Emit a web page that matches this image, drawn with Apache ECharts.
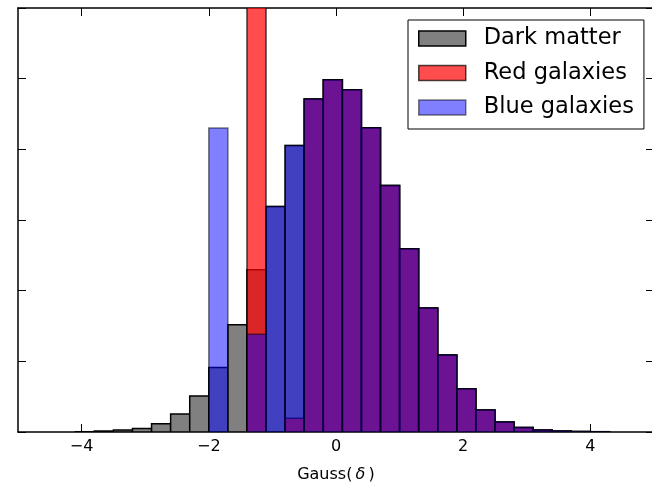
<!DOCTYPE html>
<html>
<head>
<meta charset="utf-8">
<script src="https://cdn.jsdelivr.net/npm/echarts@6/dist/echarts.min.js"></script>
<style>
  html, body { margin: 0; padding: 0; background: #fff; }
  #chart { width: 652px; height: 487px; }
</style>
</head>
<body>
<div id="chart"></div>
<script>
// histogram bins: left edges, width 0.3
var binWidth = 0.3;
var binEdges = [-4.1, -3.8, -3.5, -3.2, -2.9, -2.6, -2.3, -2.0, -1.7, -1.4,
    -1.1, -0.8, -0.5, -0.2, 0.1, 0.4, 0.7, 1.0, 1.3, 1.6,
    1.9, 2.2, 2.5, 2.8, 3.1, 3.4, 3.7, 4.0];
var darkMatter = [0.0004, 0.0014, 0.0028, 0.0051, 0.0118, 0.0255, 0.0510, 0.0911, 0.1516, 0.2295,
    0.3191, 0.4055, 0.4712, 0.4986, 0.4844, 0.4306, 0.3489, 0.2592, 0.1756, 0.1091,
    0.0613, 0.0312, 0.0142, 0.0065, 0.0028, 0.0014, 0.0007, 0.0004];
var redGalaxies = [0, 0, 0, 0, 0, 0, 0, 0, 0, 0.80,
    0, 0.0194, 0.4712, 0.4986, 0.4844, 0.4306, 0.3489, 0.2592, 0.1756, 0.1091,
    0.0613, 0.0312, 0.0142, 0.0065, 0.0028, 0.0014, 0.0007, 0.0004];
var blueGalaxies = [0, 0, 0, 0, 0, 0, 0, 0.4302, 0, 0.1384,
    0.3191, 0.4055, 0.4712, 0.4986, 0.4844, 0.4306, 0.3489, 0.2592, 0.1756, 0.1091,
    0.0613, 0.0312, 0.0142, 0.0065, 0.0028, 0.0014, 0.0007, 0.0004];
var xTicks = [-4, -2, 0, 2, 4];

function pairs(heights) {
    var out = [];
    for (var i = 0; i < binEdges.length; i++) {
        out.push([binEdges[i], heights[i]]);
    }
    return out;
}

function histSeries(name, heights, fill, stroke) {
    return {
        name: name,
        type: 'custom',
        clip: true,
        itemStyle: { color: fill, borderColor: stroke },
        encode: { x: 0, y: 1 },
        data: pairs(heights),
        renderItem: function (params, api) {
            var x0 = api.value(0);
            var h = api.value(1);
            if (!(h > 0)) {
                return null;
            }
            var p0 = api.coord([x0, 0]);
            var p1 = api.coord([x0 + binWidth, h]);
            return {
                type: 'rect',
                shape: { x: p0[0], y: p1[1], width: p1[0] - p0[0], height: p0[1] - p1[1] },
                style: { fill: fill, stroke: stroke, lineWidth: 1.5 }
            };
        }
    };
}

var chart = echarts.init(document.getElementById('chart'));
var font = 'DejaVu Sans';
var minus = function (v) {
    return v < 0 ? '\u2212' + Math.abs(v) : String(v);
};

var option = {
    animation: false,
    backgroundColor: '#fff',
    textStyle: { fontFamily: font },
    grid: { left: 18, right: -2, top: 8, bottom: 55, outerBoundsMode: 'none', containLabel: false },
    legend: {
        left: 408,
        top: 20,
        orient: 'vertical',
        backgroundColor: '#fff',
        borderColor: '#000',
        borderWidth: 1,
        borderRadius: 0,
        padding: [7, 10, 10, 10],
        itemGap: 11.5,
        itemWidth: 47,
        itemHeight: 15,
        icon: 'rect',
        textStyle: { fontFamily: font, fontSize: 22.5, color: '#000', padding: [0, 0, 0, 13] },
        data: [
            { name: 'Dark matter', itemStyle: { color: '#808080', borderColor: '#000', borderWidth: 1.5 } },
            { name: 'Red galaxies', itemStyle: { color: 'rgba(255,0,0,0.7)', borderColor: 'rgba(0,0,0,0.7)', borderWidth: 1.5 } },
            { name: 'Blue galaxies', itemStyle: { color: 'rgba(0,0,255,0.5)', borderColor: 'rgba(0,0,0,0.5)', borderWidth: 1.5 } }
        ]
    },
    xAxis: [{
        type: 'value',
        min: -5,
        max: 5,
        position: 'bottom',
        name: 'Gauss(\u2009{i|δ}\u2009)',
        nameLocation: 'middle',
        nameGap: 35,
        nameTextStyle: {
            fontFamily: font, fontSize: 16, color: '#000',
            rich: { i: { fontFamily: font, fontSize: 16, fontStyle: 'italic', color: '#000' } }
        },
        axisLine: { show: true, onZero: false, lineStyle: { color: '#000', width: 1.5 } },
        axisTick: { show: true, inside: true, length: 8, customValues: xTicks, lineStyle: { color: '#000', width: 1 } },
        axisLabel: { show: true, margin: 7, customValues: xTicks, fontFamily: font, fontSize: 16, color: '#000', formatter: minus },
        splitLine: { show: false }
    }, {
        type: 'value',
        min: -5,
        max: 5,
        position: 'top',
        axisLine: { show: true, onZero: false, lineStyle: { color: '#000', width: 1.5 } },
        axisTick: { show: true, inside: true, length: 8, customValues: xTicks, lineStyle: { color: '#000', width: 1 } },
        axisLabel: { show: false },
        splitLine: { show: false }
    }],
    yAxis: [{
        type: 'value',
        min: 0,
        max: 0.6,
        interval: 0.1,
        position: 'left',
        axisLine: { show: true, onZero: false, lineStyle: { color: '#000', width: 1.5 } },
        axisTick: { show: true, inside: true, length: 8, lineStyle: { color: '#000', width: 1 } },
        axisLabel: { show: false },
        splitLine: { show: false }
    }, {
        type: 'value',
        min: 0,
        max: 0.6,
        interval: 0.1,
        position: 'right',
        axisLine: { show: true, onZero: false, lineStyle: { color: '#000', width: 1.5 } },
        axisTick: { show: true, inside: true, length: 8, lineStyle: { color: '#000', width: 1 } },
        axisLabel: { show: false },
        splitLine: { show: false }
    }],
    series: [
        histSeries('Dark matter', darkMatter, '#808080', '#000'),
        histSeries('Red galaxies', redGalaxies, 'rgba(255,0,0,0.7)', 'rgba(0,0,0,0.7)'),
        histSeries('Blue galaxies', blueGalaxies, 'rgba(0,0,255,0.5)', 'rgba(0,0,0,0.5)')
    ]
};
chart.setOption(option);
</script>
</body>
</html>
